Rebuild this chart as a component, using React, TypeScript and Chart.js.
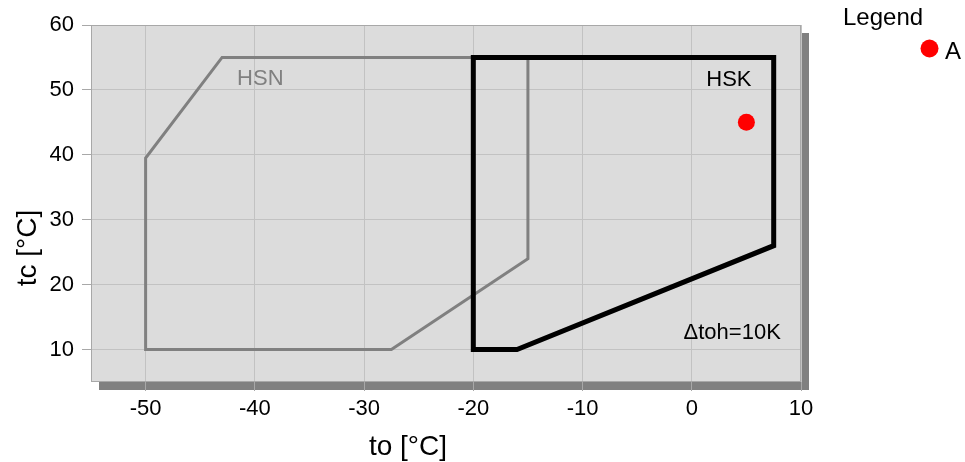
import React, { useEffect, useRef } from "react";
import { Chart, registerables } from "chart.js";

Chart.register(...registerables);

// ---- data ----
const xTicks = [-50, -40, -30, -20, -10, 0, 10];
const yTicks = [10, 20, 30, 40, 50, 60];
const xRange = [-55, 10];
const yRange = [5, 60];

const hsnX = [-50, -50, -43, -15, -15, -27.5, -50];
const hsnY = [10, 39.5, 55, 55, 24, 10, 10];

const hskX = [-20, -20, 7.5, 7.5, -16, -20];
const hskY = [10, 55, 55, 26, 10, 10];

const pointNames = ["A"];
const pointX = [5];
const pointY = [45];

const xTitle = "to [°C]";
const yTitle = "tc [°C]";
const legendTitle = "Legend";

const annoText = ["HSN", "HSK", "Δtoh=10K"];
const annoX = [-39.5, 3.4, 3.7];
const annoY = [50.8, 50.6, 11.55];
const annoColor = ["#808080", "#000000", "#000000"];

const FONT = "'Liberation Sans', Arial, sans-serif";

const toPts = (xs: number[], ys: number[]) => xs.map((x, i) => ({ x, y: ys[i] }));

const decor = {
  id: "decor",
  beforeDraw(chart: any) {
    const { ctx, chartArea: a } = chart;
    ctx.save();
    ctx.fillStyle = "#808080";
    ctx.fillRect(a.left + 8, a.top + 8, a.right - a.left, a.bottom - a.top);
    ctx.fillStyle = "#dcdcdc";
    ctx.fillRect(a.left, a.top, a.right - a.left, a.bottom - a.top);
    ctx.restore();
  },
  beforeDatasetsDraw(chart: any) {
    const { ctx, chartArea: a, scales } = chart;
    ctx.save();
    ctx.strokeStyle = "#a8a8a8";
    ctx.lineWidth = 1;
    ctx.strokeRect(a.left + 0.5, a.top + 0.5, a.right - a.left - 1, a.bottom - a.top - 1);
    ctx.font = `22px ${FONT}`;
    ctx.textAlign = "center";
    ctx.textBaseline = "alphabetic";
    annoText.forEach((t, i) => {
      ctx.fillStyle = annoColor[i];
      ctx.fillText(t, scales.x.getPixelForValue(annoX[i]), scales.y.getPixelForValue(annoY[i]));
    });
    ctx.restore();
  },
  afterDraw(chart: any) {
    const { ctx } = chart;
    ctx.save();
    ctx.fillStyle = "#000";
    ctx.font = `28px ${FONT}`;
    ctx.textAlign = "center";
    ctx.textBaseline = "alphabetic";
    ctx.fillText(xTitle, 408, 455);
    ctx.save();
    ctx.translate(36, 248);
    ctx.rotate(-Math.PI / 2);
    ctx.fillText(yTitle, 0, 0);
    ctx.restore();
    // legend
    ctx.font = `24px ${FONT}`;
    ctx.textAlign = "left";
    ctx.fillText(legendTitle, 843, 25);
    pointNames.forEach((n, i) => {
      const cy = 48.5 + i * 26;
      ctx.fillStyle = "#ff0000";
      ctx.beginPath();
      ctx.arc(929.5, cy, 9, 0, Math.PI * 2);
      ctx.fill();
      ctx.fillStyle = "#000";
      ctx.fillText(n, 945, cy + 10);
    });
    ctx.restore();
  },
};

export default function App() {
  const ref = useRef<HTMLCanvasElement | null>(null);
  useEffect(() => {
    if (!ref.current) return;
    const chart = new Chart(ref.current, {
      type: "scatter",
      data: {
        datasets: [
          {
            label: pointNames[0],
            data: toPts(pointX, pointY),
            pointRadius: 8.5,
            pointBackgroundColor: "#ff0000",
            pointBorderWidth: 0,
            showLine: false,
            order: 0,
          },
          {
            label: "HSK",
            data: toPts(hskX, hskY),
            showLine: true,
            borderColor: "#000000",
            borderWidth: 5,
            borderJoinStyle: "miter",
            borderCapStyle: "square",
            pointRadius: 0,
            tension: 0,
            order: 1,
          },
          {
            label: "HSN",
            data: toPts(hsnX, hsnY),
            showLine: true,
            borderColor: "#808080",
            borderWidth: 3,
            borderJoinStyle: "miter",
            borderCapStyle: "square",
            pointRadius: 0,
            tension: 0,
            order: 2,
          },
        ],
      },
      options: {
        animation: false,
        responsive: false,
        maintainAspectRatio: false,
        layout: { padding: { top: 25, right: 164, left: 0, bottom: 0 } },
        plugins: { legend: { display: false }, tooltip: { enabled: false } },
        scales: {
          x: {
            type: "linear",
            min: xRange[0],
            max: xRange[1],
            afterBuildTicks: (s: any) => {
              s.ticks = xTicks.map((v) => ({ value: v }));
            },
            afterFit: (s: any) => {
              s.height = 80;
            },
            border: { display: false },
            grid: { color: "#c2c2c2", tickColor: "#a8a8a8", tickLength: 9, lineWidth: 1 },
            ticks: { color: "#000", font: { family: FONT, size: 22 }, padding: 5, maxRotation: 0 },
          },
          y: {
            type: "linear",
            min: yRange[0],
            max: yRange[1],
            afterBuildTicks: (s: any) => {
              s.ticks = yTicks.map((v) => ({ value: v }));
            },
            afterFit: (s: any) => {
              s.width = 91;
            },
            border: { display: false },
            grid: { color: "#c2c2c2", tickColor: "#a8a8a8", tickLength: 9, lineWidth: 1 },
            ticks: { color: "#000", font: { family: FONT, size: 22 }, padding: 8 },
          },
        },
      },
      plugins: [decor],
    });
    return () => chart.destroy();
  }, []);
  return (
    <div style={{ position: "absolute", left: 0, top: 0, width: 965, height: 462, background: "#fff" }}>
      <canvas ref={ref} width={965} height={462} style={{ width: 965, height: 462 }} />
    </div>
  );
}
